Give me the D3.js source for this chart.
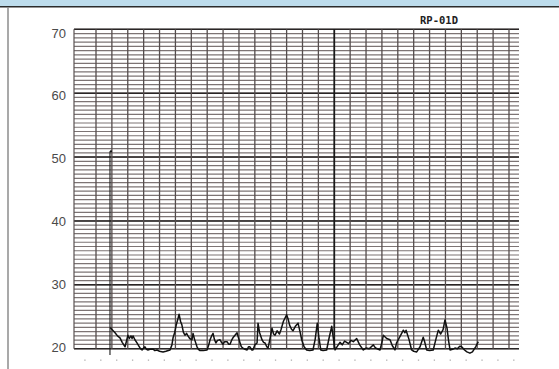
<!DOCTYPE html>
<html>
<head>
<meta charset="utf-8">
<script src="https://cdn.jsdelivr.net/npm/d3@7"></script>
<style>
  body { margin: 0; background: #fff; }
  svg { display: block; }
</style>
</head>
<body>
<div id="chart"></div>
<script>
// chart values
const title = 'RP-01D';
const yTicks = [20, 30, 40, 50, 60, 70];
// event marker: vertical pen stroke at start of trace
const eventMark = { t: 0.88, low: 19.0, high: 50.9 };
// trace (t in minutes, value)
const traceT = [0.90,1.05,1.2,1.35,1.51,1.65,1.83,1.92,2.01,2.1,2.2,2.27,2.33,2.45,2.58,2.7,2.8,2.9,3.0,3.08,3.18,3.27,3.4,3.59,3.7,3.84,4.0,4.22,4.4,4.66,4.78,4.85,4.95,5.05,5.15,5.23,5.32,5.41,5.5,5.6,5.7,5.79,5.9,6.04,6.11,6.2,6.36,6.45,6.55,6.75,6.99,7.1,7.18,7.28,7.37,7.45,7.55,7.65,7.81,7.9,7.99,8.1,8.25,8.35,8.44,8.55,8.62,8.75,8.88,8.97,9.07,9.15,9.25,9.38,9.51,9.6,9.69,9.8,9.88,10.0,10.14,10.2,10.3,10.45,10.55,10.64,10.75,10.83,10.95,11.08,11.18,11.27,11.4,11.55,11.65,11.8,12.0,12.1,12.2,12.3,12.4,12.55,12.72,12.85,12.95,13.1,13.26,13.45,13.66,13.8,13.93,14.03,14.15,14.3,14.52,14.65,14.84,14.95,15.05,15.2,15.36,15.5,15.65,15.78,15.9,16.05,16.2,16.41,16.6,16.83,17.0,17.2,17.46,17.6,17.88,18.0,18.09,18.3,18.51,18.65,18.82,18.92,19.03,19.2,19.35,19.45,19.52,19.7,19.87,20.0,20.19,20.4,20.6,20.7,20.82,21.0,21.23,21.4,21.55,21.7,21.85,21.97,22.1,22.2,22.29,22.45,22.6,22.75,22.9,23.02,23.2,23.35,23.54,23.7,23.9,24.07];
const traceV = [23.3,22.9,22.5,22.0,21.7,21.0,20.3,21.2,22.1,21.6,22.0,21.6,22.0,21.4,20.9,20.4,20.0,19.8,20.1,20.3,19.9,19.8,19.9,19.95,19.7,19.8,19.6,19.5,19.6,19.8,20.6,21.7,22.5,23.7,24.6,25.4,24.3,23.7,22.6,22.1,22.4,22.0,21.6,21.4,22.4,21.5,20.3,19.9,19.7,19.7,19.8,20.6,21.4,22.0,22.4,21.5,20.9,21.3,21.4,21.0,20.7,21.1,21.1,20.7,20.7,21.4,21.7,22.1,22.5,21.7,20.9,20.3,20.1,19.9,19.8,20.3,20.3,19.8,19.8,20.6,20.9,24.0,22.5,21.4,21.0,20.9,20.3,20.1,21.5,23.2,22.3,22.1,22.8,22.3,23.0,24.3,25.3,24.6,23.6,23.1,22.8,23.5,24.0,22.6,21.4,20.3,19.8,19.7,19.8,21.5,24.0,21.8,19.8,19.7,19.8,21.4,23.5,21.5,19.8,20.4,21.0,20.6,21.2,21.0,20.8,21.3,21.1,21.6,20.6,19.8,20.1,20.0,20.6,20.1,19.8,21.0,22.1,21.6,21.4,20.5,19.8,20.9,21.4,22.2,22.9,22.5,22.9,21.5,19.8,19.6,19.5,20.3,21.8,21.0,19.8,19.7,19.8,21.5,22.9,22.3,23.0,24.5,23.2,21.2,19.8,19.9,20.1,20.0,20.4,20.3,19.8,19.5,19.3,19.5,20.3,21.1];

const width = 559, height = 369;
const plot = { left: 74, right: 519, top: 29.3, bottom: 348.7 };

const svg = d3.select('#chart').append('svg')
  .attr('width', width)
  .attr('height', height);

// frame
svg.append('rect').attr('x', 0).attr('y', 0).attr('width', width).attr('height', 6.5).attr('fill', '#bddcec');
svg.append('line').attr('x1', 0).attr('x2', width).attr('y1', 6.8).attr('y2', 6.8)
  .attr('stroke', '#2b2b2b').attr('stroke-width', 1.6);
svg.append('line').attr('x1', 8).attr('x2', 8).attr('y1', 7).attr('y2', height)
  .attr('stroke', '#8c8c8c').attr('stroke-width', 1.5);

// scales
const x = d3.scaleLinear().domain([-1.385, 26.63]).range([plot.left, plot.right]);
const y = d3.scaleLinear().domain([20, 70]).range([plot.bottom, plot.top]);
const yLabel = d3.scaleLinear().domain([20, 70]).range([347, 33]);

const grid = svg.append('g');

// horizontal minor lines every 2/3 unit
const minorH = d3.range(0, 76).map(i => 20 + i * 2 / 3);
grid.selectAll('line.hmin').data(minorH).enter().append('line')
  .attr('class', 'hmin')
  .attr('x1', plot.left).attr('x2', plot.right)
  .attr('y1', d => y(d)).attr('y2', d => y(d))
  .attr('stroke', '#7d7474').attr('stroke-width', 1.2);

// darker lines every 10 units
grid.selectAll('line.hmaj').data(d3.range(20, 71, 10)).enter().append('line')
  .attr('class', 'hmaj')
  .attr('x1', plot.left).attr('x2', plot.right)
  .attr('y1', d => y(d)).attr('y2', d => y(d))
  .attr('stroke', '#2a2626')
  .attr('stroke-width', 1.4);

// vertical lines every minute
grid.selectAll('line.v').data(d3.range(0, 27)).enter().append('line')
  .attr('class', 'v')
  .attr('x1', d => x(d)).attr('x2', d => x(d))
  .attr('y1', plot.top).attr('y2', plot.bottom)
  .attr('stroke', d => d === 15 ? '#1a1a1a' : '#554d4d')
  .attr('stroke-width', d => d === 15 ? 1.8 : 1.3);

// left edge
grid.append('line')
  .attr('x1', plot.left).attr('x2', plot.left)
  .attr('y1', plot.top).attr('y2', plot.bottom)
  .attr('stroke', '#5a5252').attr('stroke-width', 1.2);

// faint ticks under the strip
svg.selectAll('rect.dot').data(d3.range(-1, 27)).enter().append('rect')
  .attr('class', 'dot')
  .attr('x', d => x(d + 0.3) - 0.6).attr('y', 359.5)
  .attr('width', 1.3).attr('height', 1.3)
  .attr('fill', '#b0b0b0');

// y labels
svg.selectAll('text.ylab').data(yTicks).enter().append('text')
  .attr('class', 'ylab')
  .attr('x', 66).attr('y', d => yLabel(d))
  .attr('dy', '0.35em')
  .attr('text-anchor', 'end')
  .attr('font-family', 'Liberation Sans, Arial, sans-serif')
  .attr('font-size', 13)
  .attr('fill', '#4a4a4a')
  .text(d => d);

// title
svg.append('text')
  .attr('x', 439).attr('y', 24)
  .attr('text-anchor', 'middle')
  .attr('font-family', 'DejaVu Sans Mono, monospace')
  .attr('font-weight', 'bold')
  .attr('font-size', 10.5)
  .attr('fill', '#222')
  .text(title);

// event marker
svg.append('line')
  .attr('x1', x(eventMark.t)).attr('x2', x(eventMark.t))
  .attr('y1', y(eventMark.low)).attr('y2', y(eventMark.high))
  .attr('stroke', '#1a1a1a').attr('stroke-width', 1.1);
svg.append('circle')
  .attr('cx', x(eventMark.t) + 1).attr('cy', y(eventMark.high)).attr('r', 1.1)
  .attr('fill', '#111');

// trace
const trace = traceT.map((t, i) => ({ t: t, v: traceV[i] }));
const line = d3.line()
  .x(d => x(d.t))
  .y(d => y(d.v));
svg.append('path')
  .datum(trace)
  .attr('fill', 'none')
  .attr('stroke', '#111')
  .attr('stroke-width', 1.5)
  .attr('stroke-linejoin', 'round')
  .attr('d', line);
</script>
</body>
</html>
